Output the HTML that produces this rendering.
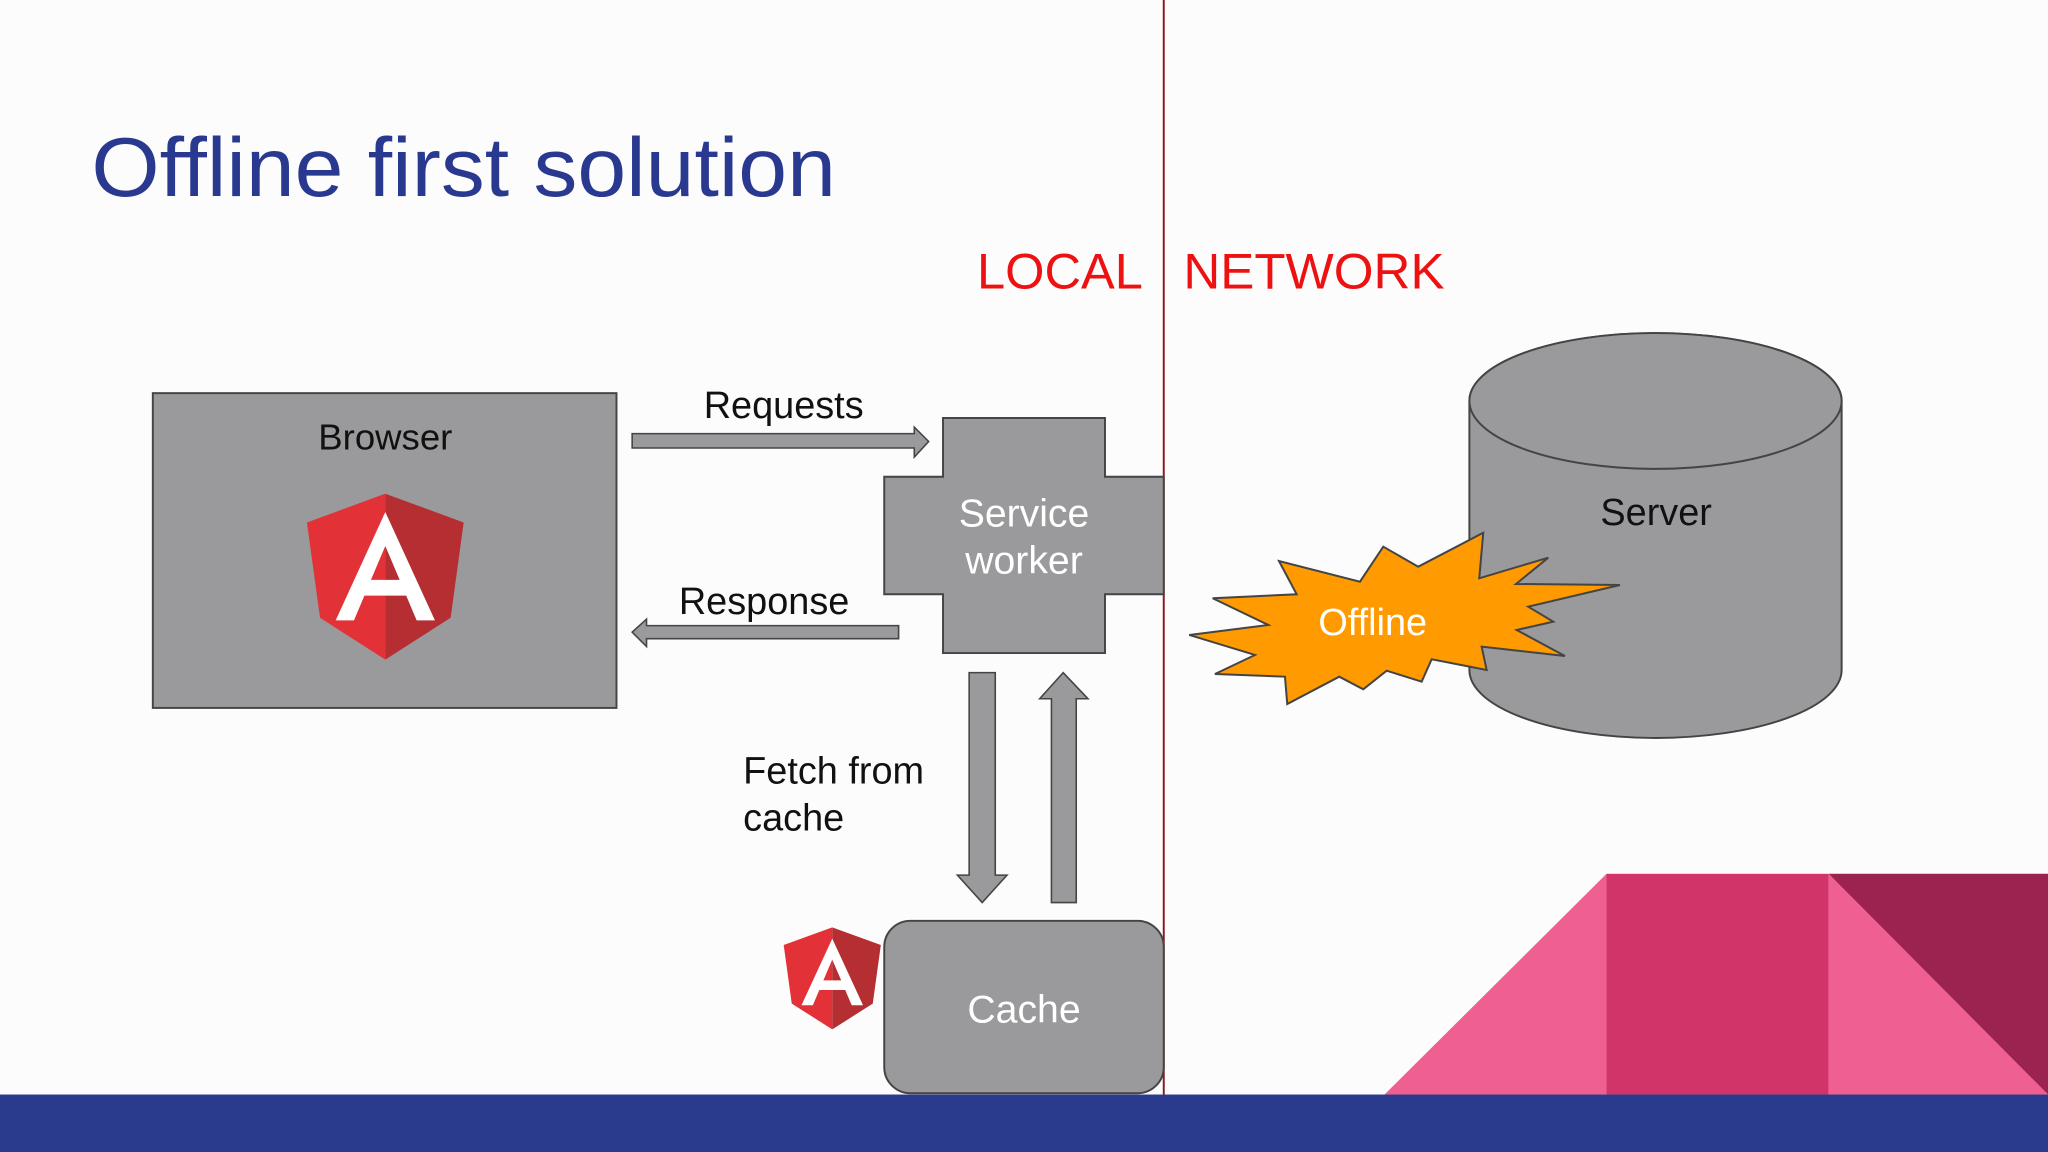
<!DOCTYPE html>
<html><head><meta charset="utf-8"><style>
html,body{margin:0;padding:0;background:#fcfcfc;}
svg{display:block;}
text{font-family:"Liberation Sans",sans-serif;}
</style></head><body>
<svg width="2048" height="1152" viewBox="0 0 1568 882" xmlns="http://www.w3.org/2000/svg">
<defs>
<g id="ng">
<path d="M60,0 L0,22 L10,95 L60,127 Z" fill="#e23237"/>
<path d="M60,0 L120,22 L110,95 L60,127 Z" fill="#b52e31"/>
<path fill="#fff" fill-rule="evenodd" d="M60,14 L98,97 L84,97 L76,78 L44,78 L36,97 L22,97 Z M60,40 L71,66 L49,66 Z"/>
</g>
</defs>
<rect width="1568" height="882" fill="#fcfcfc"/>
<text x="70" y="150" font-size="64" fill="#2a3990" textLength="570" lengthAdjust="spacingAndGlyphs">Offline first solution</text>
<line x1="891" y1="0" x2="891" y2="838" stroke="#8b1a1a" stroke-width="1.5"/>
<text x="748" y="221" font-size="38" fill="#ee1111" textLength="127" lengthAdjust="spacingAndGlyphs">LOCAL</text>
<text x="906" y="221" font-size="38" fill="#ee1111" textLength="200" lengthAdjust="spacingAndGlyphs">NETWORK</text>

<rect x="117" y="301" width="355" height="241" fill="#9a999b" stroke="#444" stroke-width="1.5"/>
<text x="295" y="344" font-size="28" text-anchor="middle" fill="#111">Browser</text>
<use href="#ng" transform="translate(235,378)"/>

<polygon points="484,332 700,332 700,327 711,338 700,350 700,343 484,343" fill="#9a999b" stroke="#444" stroke-width="1.2"/>
<text x="600" y="320" font-size="29" text-anchor="middle" fill="#111">Requests</text>

<polygon points="722,320 846,320 846,365 891,365 891,455 846,455 846,500 722,500 722,455 677,455 677,365 722,365" fill="#9a999b" stroke="#444" stroke-width="1.5"/>
<text x="784" y="403" font-size="30" text-anchor="middle" fill="#fff">Service</text>
<text x="784" y="439" font-size="30" text-anchor="middle" fill="#fff">worker</text>

<polygon points="688,479 495,479 495,474 484,484 495,495 495,489 688,489" fill="#9a999b" stroke="#444" stroke-width="1.2"/>
<text x="585" y="470" font-size="29" text-anchor="middle" fill="#111">Response</text>

<polygon points="742,515 762,515 762,670 771,670 752,691 733,670 742,670" fill="#9a999b" stroke="#444" stroke-width="1.2"/>
<polygon points="805,691 824,691 824,535 833,535 814,515 796,535 805,535" fill="#9a999b" stroke="#444" stroke-width="1.2"/>
<text x="569" y="600" font-size="29" fill="#111">Fetch from</text>
<text x="569" y="636" font-size="29" fill="#111">cache</text>

<rect x="677" y="705" width="214" height="132" rx="20" fill="#9a999b" stroke="#444" stroke-width="1.5"/>
<text x="784" y="783" font-size="30" text-anchor="middle" fill="#fff">Cache</text>
<use href="#ng" transform="translate(600,710) scale(0.62,0.615)"/>

<path d="M1125,307 L1125,513 A142.5,52 0 0 0 1410,513 L1410,307 A142.5,52 0 0 0 1125,307 Z" fill="#9a999b" stroke="#444" stroke-width="1.5"/>
<ellipse cx="1267.5" cy="307" rx="142.5" ry="52" fill="#9a999b" stroke="#444" stroke-width="1.5"/>
<text x="1268" y="402" font-size="29" text-anchor="middle" fill="#111">Server</text>

<g transform="scale(0.7656)">
<polygon fill="#ff9a00" stroke="#444" stroke-width="2" points="1189.3,635 1268.3,625 1212.7,598.3 1296.7,594.3 1279,561 1360,581.7 1383.3,546.7 1418.3,566.7 1483.3,532.7 1479.3,578.3 1548.3,557.7 1516,584 1620,585 1528.3,606.7 1553.3,621.7 1516.7,630 1565,656 1481.7,646.7 1486.7,670 1431.7,659.3 1421.7,681.7 1386.7,670.7 1363.3,689.3 1339.3,676.7 1287.3,704 1285,676.7 1215,674 1255,655"/>
</g>
<text x="1051" y="486" font-size="29" text-anchor="middle" fill="#fff">Offline</text>

<polygon points="1060,838 1230,669 1230,838" fill="#ef5f92"/>
<rect x="1230" y="669" width="170" height="169" fill="#d03468"/>
<polygon points="1400,669 1568,838 1400,838" fill="#ef5f92"/>
<polygon points="1400,669 1568,669 1568,838" fill="#9c2350"/>
<rect x="0" y="838" width="1568" height="44" fill="#2a3a8c"/>
</svg>
</body></html>
